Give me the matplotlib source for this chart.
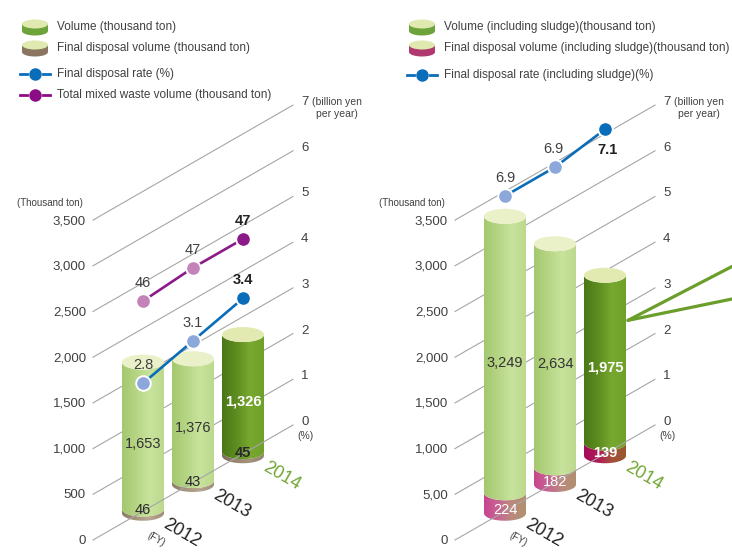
import numpy as np
import matplotlib.pyplot as plt
from matplotlib.patches import Ellipse, PathPatch
from matplotlib.path import Path
from matplotlib.colors import LinearSegmentedColormap

plt.rcParams['font.family'] = ['Liberation Sans', 'DejaVu Sans']

# data
years = ['2012', '2013', '2014']
left_volume = [1653, 1376, 1326]
left_disposal = [46, 43, 45]
left_rate = [2.8, 3.1, 3.4]
left_mixed = [46, 47, 47]          # plotted on the % scale as value / 10
right_volume = [3249, 2634, 1975]
right_disposal = [224, 182, 139]
right_rate = [6.9, 6.9, 7.1]
ton_ticks = [0, 500, 1000, 1500, 2000, 2500, 3000, 3500]
left_tick_labels = ['0', '500', '1,000', '1,500', '2,000', '2,500', '3,000', '3,500']
right_tick_labels = ['0', '5,00', '1,000', '1,500', '2,000', '2,500', '3,000', '3,500']
rate_ticks = [0, 1, 2, 3, 4, 5, 6, 7]

# pseudo 3D geometry (pixels)
PX_PER_TON = 45.7 / 500
PX_PER_RATE = 45.7
SLOPE = 0.575
FLOOR_Y = 540
DEPTH = 200
RX, RY = 21, 7.5
TXT = '#404040'

fig = plt.figure(figsize=(7.32, 5.52), dpi=100)
ax = fig.add_axes([0, 0, 1, 1])
ax.axis('off')


def floor(x, x0):
    return FLOOR_Y - (x - x0) * SLOPE


def grad(colors):
    return LinearSegmentedColormap.from_list('g', colors)


def segment(xc, ya, yb, colors, z):
    t = np.linspace(np.pi, 0, 40)
    bx = xc + RX * np.cos(t)
    by = ya + RY * np.sin(t)
    t2 = np.linspace(0, np.pi, 40)
    tx = xc + RX * np.cos(t2)
    ty = yb + RY * np.sin(t2)
    verts = np.vstack([np.column_stack([bx, by]), np.column_stack([tx, ty]), [[bx[0], by[0]]]])
    path = Path(verts)
    patch = PathPatch(path, facecolor='none', edgecolor='none', zorder=z)
    ax.add_patch(patch)
    im = ax.imshow(np.linspace(0, 1, 64)[None, :], cmap=grad(colors), aspect='auto',
                   extent=[xc - RX, xc + RX, ya + RY + 1, yb - 1], interpolation='bilinear', zorder=z)
    im.set_clip_path(patch)


def cylinder(xc, base, disp, total, body, top, disp_colors):
    y_d = base - disp * PX_PER_TON
    y_t = base - total * PX_PER_TON
    segment(xc, base, y_d, disp_colors, 2)
    segment(xc, y_d, y_t, body, 2.1)
    ax.add_patch(Ellipse((xc, y_t), 2 * RX, 2 * RY, facecolor=top, edgecolor='none', zorder=2.2))
    return y_t


light_body = ['#a4c86f', '#b6d584', '#c8e39c', '#bdd98e']
dark_body = ['#4a7817', '#5d8c20', '#78a82f', '#6fa02a']
light_top = '#eaf1c8'
dark_top = '#e3eab1'


def panel(x0, volume, disposal, rate, tick_labels, disp_sets, mixed=None, rate_lab_off=None):
    # gridlines + axis labels
    for k, (v, lab) in enumerate(zip(ton_ticks, tick_labels)):
        yl = FLOOR_Y - v * PX_PER_TON
        ax.plot([x0, x0 + DEPTH], [yl, yl - DEPTH * SLOPE], color='#a6a6a6', lw=0.8,
                zorder=4 if k == 0 else 1)
        ax.text(x0 - 7, yl + 1, lab, ha='right', va='center', fontsize=9.5, color=TXT)
        ye = FLOOR_Y - rate_ticks[k] * PX_PER_RATE - DEPTH * SLOPE - 3
        ax.text(x0 + 208, ye, str(rate_ticks[k]), ha='left', va='center', fontsize=9.5, color=TXT)
    ye0 = FLOOR_Y - DEPTH * SLOPE
    ax.text(x0 + 213, ye0 + 11, '(%)', ha='center', va='center', fontsize=7.5, color=TXT)
    ye7 = FLOOR_Y - 7 * PX_PER_RATE - DEPTH * SLOPE - 3
    ax.text(x0 + 219, ye7, '(billion yen', ha='left', va='center', fontsize=7.5, color=TXT)
    ax.text(x0 + 244, ye7 + 12, 'per year)', ha='center', va='center', fontsize=7.5, color=TXT)
    ax.text(x0 - 43, FLOOR_Y - 3500 * PX_PER_TON - 17, '(Thousand ton)', ha='center', va='center',
            fontsize=7, color=TXT)

    xs = [x0 + 50 * (i + 1) for i in range(3)]
    for i, xc in enumerate(xs):
        base = floor(xc, x0) + 2
        body = dark_body if i == 2 else light_body
        top = dark_top if i == 2 else light_top
        cylinder(xc, base, disposal[i], volume[i], body, top, disp_sets[i])
        last = i == 2
        mid = base - (disposal[i] + (volume[i] - disposal[i]) / 2) * PX_PER_TON + 8
        ax.text(xc, mid, f'{volume[i]:,}', ha='center', va='center', fontsize=10.5,
                color='white' if last else '#333333', fontweight='bold' if last else 'normal', zorder=7)
        dcol = 'white' if disp_sets is not left_disp else '#2a2a2a'
        ax.text(xc, base - 3, f'{disposal[i]}', ha='center', va='center', fontsize=10.5,
                color=dcol, fontweight='bold' if last else 'normal', zorder=7)
        ax.text(xc + 39, base + 20, years[i], ha='center', va='center', fontsize=13, rotation=-30,
                color='#72a534' if last else '#222222', zorder=7)
    ax.text(xs[0] + 13, floor(xs[0], x0) + 28, '(FY)', ha='center', va='center', fontsize=7,
            rotation=-30, color=TXT)

    def series(vals, line_c, light_c):
        ys = [floor(xc, x0) - v * PX_PER_RATE for xc, v in zip(xs, vals)]
        ax.plot(xs, ys, color=line_c, lw=1.9, zorder=5)
        for i, (xc, y) in enumerate(zip(xs, ys)):
            ax.plot(xc, y, 'o', ms=10.5, mfc=line_c if i == 2 else light_c, mec='white', mew=1.4, zorder=6)
        return ys

    ys = series(rate, '#0a6dba', '#8ca7da')
    for i, (xc, y) in enumerate(zip(xs, ys)):
        dx, dy = rate_lab_off[i]
        ax.text(xc + dx, y + dy, f'{rate[i]}', ha='center', va='center', fontsize=10.5,
                color='#222222' if i == 2 else TXT, fontweight='bold' if i == 2 else 'normal', zorder=7)
    if mixed is not None:
        ym = series([m / 10 for m in mixed], '#8c1a88', '#c383b8')
        for i, (xc, y) in enumerate(zip(xs, ym)):
            ax.text(xc, y - 18, f'{mixed[i]}', ha='center', va='center', fontsize=10.5,
                    color='#222222' if i == 2 else TXT, fontweight='bold' if i == 2 else 'normal', zorder=7)
    return xs


left_disp = [['#8c7a66', '#a8957f', '#b8a792', '#a08c78']] * 2 + [['#7a6a58', '#978670', '#a5927c', '#96836e']]
right_disp = [['#c8448f', '#c66592', '#bb8a7e', '#b0906e'], ['#c8448f', '#c66592', '#bb8a7e', '#b0906e'],
              ['#a60a58', '#b01c5a', '#a5503a', '#98582e']]

panel(93, left_volume, left_disposal, left_rate, left_tick_labels, left_disp, mixed=left_mixed,
      rate_lab_off=[(0, -18), (0, -18), (0, -18)])
xr = panel(455, right_volume, right_disposal, right_rate, right_tick_labels, right_disp,
           rate_lab_off=[(0, -18), (-2, -18), (3, 21)])

# callout lines from the 2014 cylinder
yc = floor(xr[2], 455) + 2 - right_volume[2] * PX_PER_TON * 0.75
for ye in [yc - 58, yc - 23]:
    ax.plot([xr[2] + RX + 2, 740], [yc, ye], color='#6b9e2a', lw=2.3, solid_capstyle='round', zorder=3)


# legends
def icon(xc, yc, body_c):
    t = np.linspace(np.pi, 0, 30)
    xb = xc + 13 * np.cos(t)
    yb = yc + 7 + 4.5 * np.sin(t)
    verts = np.vstack([[[xc - 13, yc]], np.column_stack([xb, yb]), [[xc + 13, yc]]])
    ax.add_patch(plt.Polygon(verts, facecolor=body_c, edgecolor='none', zorder=3))
    ax.add_patch(Ellipse((xc, yc), 26, 9, facecolor='#dfe9b0', edgecolor='none', zorder=3.1))


def line_icon(xc, yc, c):
    ax.plot([xc - 15, xc - 8], [yc, yc], color=c, lw=2, zorder=3)
    ax.plot([xc + 8, xc + 15], [yc, yc], color=c, lw=2, zorder=3)
    ax.plot(xc, yc, 'o', ms=9, mfc=c, mec='none', zorder=3)


icon(35, 24, '#6ea23a')
icon(35, 45, '#8a7660')
line_icon(35, 74, '#0a6dba')
line_icon(35, 95, '#8c0c86')
for y, s in zip([27, 48, 74, 95], ['Volume (thousand ton)', 'Final disposal volume (thousand ton)',
                                   'Final disposal rate (%)', 'Total mixed waste volume (thousand ton)']):
    ax.text(57, y, s, ha='left', va='center', fontsize=8.5, color=TXT)

icon(422, 24, '#6ea23a')
icon(422, 45, '#b03a70')
line_icon(422, 75, '#0a6dba')
for y, s in zip([27, 48, 75], ['Volume (including sludge)(thousand ton)',
                               'Final disposal volume (including sludge)(thousand ton)',
                               'Final disposal rate (including sludge)(%)']):
    ax.text(444, y, s, ha='left', va='center', fontsize=8.5, color=TXT)

ax.set_xlim(0, 732)
ax.set_ylim(552, 0)
fig.savefig('out.png', dpi=100)
